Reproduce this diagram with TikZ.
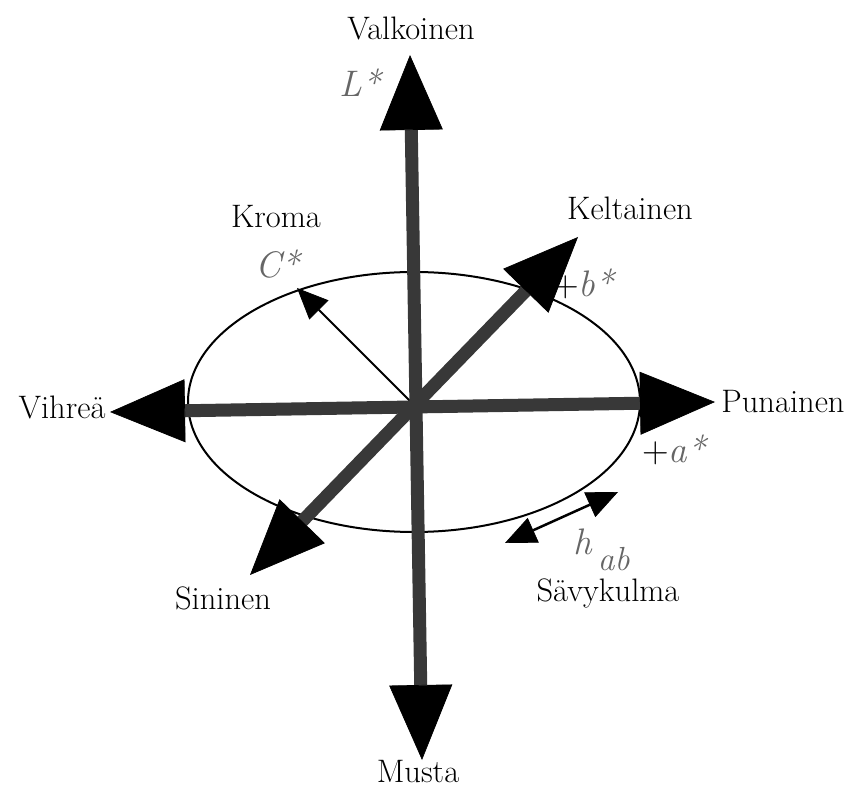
\documentclass[tikz,border=0pt]{standalone}
\usetikzlibrary{arrows.meta}
\begin{document}
\begin{tikzpicture}[
  bigtip/.tip={Triangle[length=1.5cm, width=1.26cm, line width=0.4pt, color=black]},
  smalltip/.tip={Triangle[length=0.62cm, width=0.54cm, line width=0.4pt]},
  lab/.style={font=\fontsize{18.5}{20}\selectfont, inner sep=0pt},
  var/.style={font=\fontsize{21}{24}\selectfont\itshape, text=black!60, inner sep=0pt},
  axis/.style={line width=0.26cm, draw=black!78, bigtip-bigtip},
  radial/.style={line width=0.04cm, -smalltip},
  hue/.style={line width=0.05cm, smalltip-smalltip}]
\useasboundingbox (0,0) rectangle (17.18,15.76);
\coordinate (o)    at (8.28,7.66);
\coordinate (top)  at (8.20,14.66);
\coordinate (bot)  at (8.44,0.56);
\coordinate (left) at (2.20,7.52);
\coordinate (rght) at (14.30,7.72);
\coordinate (yel)  at (11.56,11.02);
\coordinate (blu)  at (5.00,4.26);
\coordinate (rim)  at (5.94,10.00);
\coordinate (h1)   at (10.10,4.90);
\coordinate (h2)   at (12.36,5.92);
\draw[line width=0.04cm] (8.28,7.72) ellipse [x radius=4.52cm, y radius=2.6cm];
\draw[radial] (o) -- (rim);
\draw[axis] (bot) -- (top);
\draw[axis] (left) -- (rght);
\draw[axis] (blu) -- (yel);
\draw[hue] (h1) -- (h2);
\node[lab] (valk)  at (8.22,15.20)  {Valkoinen};
\node[var] (lstar) at (7.20,14.10)  {L*};
\node[lab] (kelt)  at (12.60,11.60) {Keltainen};
\node[var] (bstar) at (11.66,10.08) {\upshape\textcolor{black}{+}\itshape b*};
\node[lab] (krom)  at (5.52,11.42)  {Kroma};
\node[var] (cstar) at (5.56,10.48)  {C*};
\node[lab] (vihr)  at (1.24,7.62)   {Vihreä};
\node[lab] (puna)  at (15.66,7.72)  {Punainen};
\node[var] (astar) at (13.48,6.76)  {\upshape\textcolor{black}{+}\itshape a*};
\node[var, anchor=base west] (hab) at (11.46,4.66) {h\,\raisebox{-1ex}{\fontsize{19}{20}\selectfont ab}};
\node[lab] (savy)  at (12.16,3.90)  {Sävykulma};
\node[lab] (sini)  at (4.46,3.80)   {Sininen};
\node[lab] (must)  at (8.36,0.32)   {Musta};
\end{tikzpicture}
\end{document}
